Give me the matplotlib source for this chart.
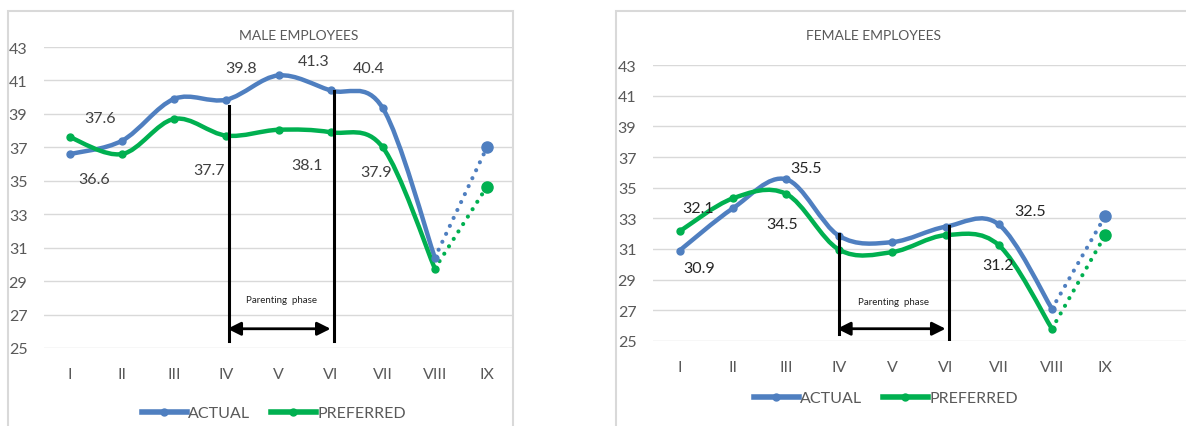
import matplotlib.pyplot as plt
import numpy as np
from matplotlib.path import Path
from matplotlib.patches import PathPatch, Rectangle
from matplotlib.lines import Line2D

plt.rcParams['font.family'] = ['Lato', 'DejaVu Sans']

phases = ['I', 'II', 'III', 'IV', 'V', 'VI', 'VII', 'VIII', 'IX']
y_ticks = [25, 27, 29, 31, 33, 35, 37, 39, 41, 43]

male_actual = [36.6, 37.4, 39.9, 39.85, 41.3, 40.4, 39.35, 30.4, 37.0]
male_preferred = [37.6, 36.6, 38.7, 37.7, 38.05, 37.9, 37.0, 29.75, 34.65]
female_actual = [30.9, 33.65, 35.55, 31.85, 31.45, 32.45, 32.6, 27.1, 33.15]
female_preferred = [32.15, 34.3, 34.6, 30.95, 30.8, 31.9, 31.25, 25.8, 31.9]

# data labels as printed on the chart (text, x, y)
male_labels = [('37.6', 0.58, 38.75), ('36.6', 0.46, 35.1), ('39.8', 3.28, 41.75),
               ('41.3', 4.68, 42.15), ('40.4', 5.74, 41.75), ('37.7', 2.67, 35.65),
               ('38.1', 4.55, 35.95), ('37.9', 5.87, 35.5)]
female_labels = [('32.1', 0.34, 33.7), ('30.9', 0.37, 29.75), ('35.5', 2.37, 36.3),
                 ('34.5', 1.93, 32.6), ('32.5', 6.59, 33.5), ('31.2', 5.99, 29.95)]

BLUE = '#4F7FC0'
GREEN = '#00B050'
GREY = '#595959'


def smooth_path(xs, ys):
    # Excel-like smoothed line: cubic Bezier segments with Catmull-Rom tangents
    pts = np.column_stack([xs, ys]).astype(float)
    verts = [pts[0]]
    codes = [Path.MOVETO]
    n = len(pts)
    for i in range(n - 1):
        p0 = pts[i - 1] if i > 0 else pts[i]
        p1 = pts[i]
        p2 = pts[i + 1]
        p3 = pts[i + 2] if i + 2 < n else pts[i + 1]
        verts += [p1 + (p2 - p0) / 6, p2 - (p3 - p1) / 6, p2]
        codes += [Path.CURVE4] * 3
    return Path(verts, codes)


def draw_panel(ax, actual, preferred, labels, title, title_xy, vlines, arrow_y, label_color, xmax):
    x = np.arange(len(phases))
    for vals, col in [(actual, BLUE), (preferred, GREEN)]:
        ax.add_patch(PathPatch(smooth_path(x[:8], vals[:8]), fc='none', ec=col, lw=3.2,
                               capstyle='round', zorder=3))
        ax.plot(x[:8], vals[:8], 'o', color=col, ms=5, zorder=4)
        ax.plot(x[7:], vals[7:], color=col, lw=3, ls=(0, (0.01, 2.1)),
                dash_capstyle='round', zorder=3)
        ax.plot(x[8], vals[8], 'o', color=col, ms=8, zorder=4)

    for (xv, y0, y1) in vlines:
        ax.plot([xv, xv], [y0, y1], color='black', lw=2.2, zorder=5)
    ax.annotate('', xy=(vlines[0][0] - 0.03, arrow_y), xytext=(vlines[1][0] - 0.07, arrow_y),
                arrowprops=dict(arrowstyle='<|-|>', color='black', lw=2,
                                mutation_scale=20, shrinkA=0, shrinkB=0), zorder=5)
    ax.text((vlines[0][0] + vlines[1][0]) / 2, arrow_y + 1.75, 'Parenting  phase',
            fontsize=7, ha='center', va='center', color='#222222')

    for txt, lx, ly in labels:
        ax.text(lx, ly, txt, fontsize=11.5, ha='center', va='center', color=label_color, zorder=6)

    ax.text(title_xy[0], title_xy[1], title, fontsize=10, color=GREY,
            ha='center', va='center', clip_on=False)

    ax.set_xlim(-0.5, xmax)
    ax.set_ylim(25, 43)
    ax.set_xticks(x)
    ax.set_xticklabels(phases)
    ax.set_yticks(y_ticks)
    ax.grid(axis='y', color='#D9D9D9', lw=1)
    ax.set_axisbelow(True)
    for s in ax.spines.values():
        s.set_visible(False)
    ax.tick_params(length=0, labelsize=11.5, labelcolor=GREY)
    ax.tick_params(axis='x', pad=14)
    ax.tick_params(axis='y', pad=12)


fig = plt.figure(figsize=(11.86, 4.27), dpi=100)

# panel frames
fig.add_artist(Rectangle((8 / 1186, -0.1), 505 / 1186, 1.072, transform=fig.transFigure,
                         fc='white', ec='#D9D9D9', lw=1.5, zorder=0))
fig.add_artist(Rectangle((616 / 1186, -0.1), 600 / 1186, 1.072, transform=fig.transFigure,
                         fc='white', ec='#D9D9D9', lw=1.5, zorder=0))

ax1 = fig.add_axes([44 / 1186, 78 / 427, 469 / 1186, 301 / 427])
ax1.patch.set_alpha(0)
draw_panel(ax1, male_actual, male_preferred, male_labels, 'MALE EMPLOYEES', (4.38, 43.7),
           [(3.05, 25.4, 39.5), (5.07, 25.4, 40.35)], 26.15, '#404040', 8.5)

ax2 = fig.add_axes([653 / 1186, 85 / 427, 533 / 1186, 276 / 427])
ax2.patch.set_alpha(0)
draw_panel(ax2, female_actual, female_preferred, female_labels, 'FEMALE EMPLOYEES', (3.65, 44.95),
           [(2.99, 25.45, 32.0), (5.07, 25.05, 32.5)], 25.8, '#262626', 9.52)

# legends
handles = [Line2D([], [], color=BLUE, lw=4, marker='o', ms=5),
           Line2D([], [], color=GREEN, lw=4, marker='o', ms=5)]
for cx, cy in [(274, 414), (886, 399)]:
    fig.legend(handles, ['ACTUAL', 'PREFERRED'], loc='center',
               bbox_to_anchor=(cx / 1186, 1 - cy / 427),
               ncol=2, frameon=False, fontsize=11.5, labelcolor=GREY, handlelength=2.8,
               handletextpad=0.1, columnspacing=1.3)

fig.savefig('out.png', dpi=100)
